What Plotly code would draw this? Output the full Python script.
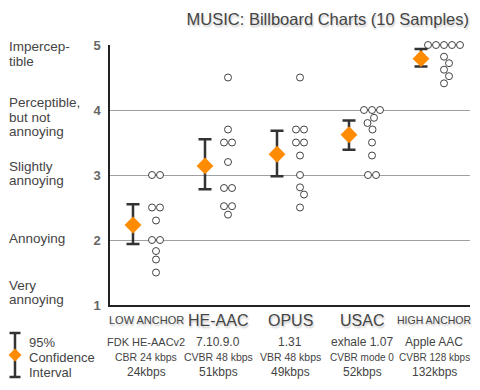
import plotly.graph_objects as go

# ---------------- data ----------------
categories = ["LOW ANCHOR", "HE-AAC", "OPUS", "USAC", "HIGH ANCHOR"]
codec_version = ["FDK HE-AACv2", "7.10.9.0", "1.31", "exhale 1.07", "Apple AAC"]
codec_mode = ["CBR 24 kbps", "CVBR 48 kbps", "VBR 48 kbps", "CVBR mode 0", "CVBR 128 kbps"]
avg_bitrate = ["24kbps", "51kbps", "49kbps", "52kbps", "132kbps"]

scores_low_anchor = [3.0, 3.0, 2.5, 2.5, 2.3, 2.0, 2.0, 1.83, 1.7, 1.5]
scores_he_aac = [4.5, 3.7, 3.5, 3.5, 3.2, 2.8, 2.8, 2.52, 2.52, 2.39]
scores_opus = [4.5, 3.7, 3.7, 3.5, 3.5, 3.3, 3.0, 2.81, 2.7, 2.5]
scores_usac = [4.0, 4.0, 4.0, 3.88, 3.8, 3.7, 3.5, 3.3, 3.0, 3.0]
scores_high_anchor = [5.0, 5.0, 5.0, 5.0, 5.0, 4.82, 4.72, 4.62, 4.52, 4.41]

mean_scores = [2.23, 3.14, 3.32, 3.62, 4.79]
ci_upper = [2.55, 3.55, 3.68, 3.84, 4.94]
ci_lower = [1.94, 2.78, 2.98, 3.39, 4.67]

y_tick_values = [1, 2, 3, 4, 5]
y_tick_labels = ["1", "2", "3", "4", "5"]
grade_labels = [["Very", "annoying"], ["Annoying"], ["Slightly", "annoying"],
                ["Perceptible,", "but not", "annoying"], ["Impercep-", "tible"]]
title_text = "MUSIC: Billboard Charts (10 Samples)"
legend_lines = ["95%", "Confidence", "Interval"]

all_scores = [scores_low_anchor, scores_he_aac, scores_opus, scores_usac, scores_high_anchor]

# ---------------- geometry / style ----------------
OFF = 8                      # page body margin of the html page
W, H = 480 - OFF, 390 - OFF
ML, MR, MT, MB = 110 - OFF, 10, 45 - OFF, 85
PW, PH = W - ML - MR, H - MT - MB
X_UNIT = PW / 5.0      # px per category
Y_UNIT = PH / 4.0      # px per score unit


def px_x(xp):          # page pixel -> paper
    return (xp - OFF - ML) / PW


def px_y(yp):
    return (H - MB - (yp - OFF)) / PH


FONT = "Liberation Sans, Arial, sans-serif"
TXT = "#444444"
ORANGE = "#FF8C00"
BAR = "#333333"
SHADOW = "1px 2px 2px rgba(0,0,0,0.22)"


def swarm_offsets(vals, d=8.0, step=8.0):
    """simple beeswarm in pixel units: ties spread symmetrically, others nudged"""
    placed = []
    out = []
    uniq = sorted(set(vals), reverse=True)
    for v in uniq:
        n = vals.count(v)
        yp = v * Y_UNIT
        if n > 1:
            for k in range(n):
                dx = (k - (n - 1) / 2.0) * step
                placed.append((dx, yp))
                out.append((v, dx))
        else:
            cand = [0.0]
            for j in range(1, 60):
                cand += [j * 0.5, -j * 0.5]
            for dx in cand:
                if all(((dx - px) ** 2 + (yp - py) ** 2) ** 0.5 >= d for px, py in placed):
                    break
            placed.append((dx, yp))
            out.append((v, dx))
    return out


fig = go.Figure()

POINT_SHIFT = 10.0   # px right of category centre
MEAN_SHIFT = -13.0   # px left of category centre

px_list, py_list = [], []
for ci, vals in enumerate(all_scores):
    for v, dx in swarm_offsets(vals):
        px_list.append(ci + (POINT_SHIFT + dx) / X_UNIT)
        py_list.append(v)

fig.add_trace(go.Scatter(
    x=px_list, y=py_list, mode="markers", cliponaxis=False, showlegend=False,
    marker=dict(symbol="circle", size=7, color="white",
                line=dict(color="#444444", width=1)),
    hoverinfo="y"))

fig.add_trace(go.Scatter(
    x=[i + MEAN_SHIFT / X_UNIT for i in range(len(categories))], y=mean_scores,
    mode="markers", cliponaxis=False, showlegend=False,
    marker=dict(symbol="diamond", size=13, color=ORANGE, line=dict(width=0)),
    error_y=dict(type="data", symmetric=False,
                 array=[u - m for u, m in zip(ci_upper, mean_scores)],
                 arrayminus=[m - l for m, l in zip(mean_scores, ci_lower)],
                 color=BAR, thickness=2.5, width=6.5)))

annotations = []
shapes = []

# bottom category labels (font sizes chosen so the long labels fit their column)
cat_sizes = [11, 16, 16, 16, 10.5]
version_sizes = [11, 12, 12, 12, 12]
mode_sizes = [10.5, 10.5, 10.5, 10, 10]
rate_sizes = [12, 12, 12, 12, 12]
for i, cat in enumerate(categories):
    annotations.append(dict(
        x=i, xref="x", y=px_y(320), yref="paper", text=cat, showarrow=False,
        xanchor="center", yanchor="middle", borderpad=0,
        font=dict(family=FONT, size=cat_sizes[i], color=TXT, shadow=SHADOW)))
    rows = [(codec_version[i], 342, version_sizes[i]),
            (codec_mode[i], 357, mode_sizes[i]),
            (avg_bitrate[i], 372, rate_sizes[i])]
    for txt, yp, fs in rows:
        annotations.append(dict(
            x=i, xref="x", y=px_y(yp), yref="paper", text=txt, showarrow=False,
            xanchor="center", yanchor="middle", borderpad=0,
            font=dict(family=FONT, size=fs, color=TXT)))

# left grade labels (page-pixel centre of each text line)
grade_line_px = [[285, 299], [238], [166, 181], [102, 117, 131], [47, 61]]
for lines, ys in zip(grade_labels, grade_line_px):
    for t, yp in zip(lines, ys):
        annotations.append(dict(
            x=px_x(8), xref="paper", y=px_y(yp), yref="paper", text=t, showarrow=False,
            xanchor="left", yanchor="middle", borderpad=0,
            font=dict(family=FONT, size=13.5, color=TXT)))

# legend (confidence interval key)
for t, yp in zip(legend_lines, [342, 357, 372]):
    annotations.append(dict(
        x=px_x(28), xref="paper", y=px_y(yp), yref="paper", text=t, showarrow=False,
        xanchor="left", yanchor="middle", borderpad=0,
        font=dict(family=FONT, size=13, color=TXT)))

lx, ly0, ly1, cap = 15, 333, 377, 5.5
shapes.append(dict(type="line", xref="paper", yref="paper",
                   x0=px_x(lx), x1=px_x(lx), y0=px_y(ly0), y1=px_y(ly1),
                   line=dict(color=BAR, width=2.5)))
for yy in (ly0, ly1):
    shapes.append(dict(type="line", xref="paper", yref="paper",
                       x0=px_x(lx - cap), x1=px_x(lx + cap), y0=px_y(yy), y1=px_y(yy),
                       line=dict(color=BAR, width=2.5)))
dcx, dcy, dr = 15, 355, 6.5
shapes.append(dict(type="path", xref="paper", yref="paper",
                   path=f"M {px_x(dcx)} {px_y(dcy - dr)} L {px_x(dcx + dr)} {px_y(dcy)} "
                        f"L {px_x(dcx)} {px_y(dcy + dr)} L {px_x(dcx - dr)} {px_y(dcy)} Z",
                   fillcolor=ORANGE, line=dict(width=0)))

fig.update_layout(
    width=W, height=H, margin=dict(l=ML, r=MR, t=MT, b=MB),
    paper_bgcolor="white", plot_bgcolor="white",
    title=dict(text=title_text, x=(469 - OFF) / W, xref="container", xanchor="right",
               y=1 - (19 - OFF) / H, yref="container", yanchor="middle",
               font=dict(family=FONT, size=16.5, color=TXT, shadow=SHADOW)),
    xaxis=dict(range=[-0.5, 4.5], showgrid=False, zeroline=False, showticklabels=False,
               showline=True, linecolor="#222222", linewidth=1.5, fixedrange=True),
    yaxis=dict(range=[1, 5], tickvals=y_tick_values,
               ticktext=[f"<b>{t}</b>" for t in y_tick_labels],
               tickfont=dict(family=FONT, size=13, color="#666666"),
               showgrid=True, gridcolor="#A0A0A0", gridwidth=1, zeroline=False,
               showline=True, linecolor="#222222", linewidth=1.5, ticks="",
               ticklabelstandoff=5),
    annotations=annotations, shapes=shapes, showlegend=False,
)

fig.write_html("out.html")
